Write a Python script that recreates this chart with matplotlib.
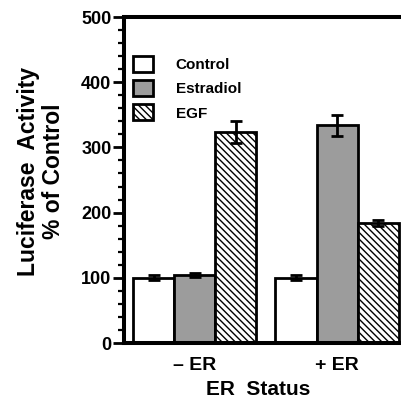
import matplotlib
matplotlib.use("Agg")
import matplotlib.pyplot as plt
import numpy as np

# data
groups = ["\u2013 ER", "+ ER"]
series = ["Control", "Estradiol", "EGF"]
means = {
    "Control": [100, 100],
    "Estradiol": [104, 334],
    "EGF": [324, 184],
}
errors = {
    "Control": [4, 4],
    "Estradiol": [3, 16],
    "EGF": [17, 5],
}
yticks = [0, 100, 200, 300, 400, 500]

plt.rcParams["font.family"] = ["Liberation Sans", "DejaVu Sans"]
plt.rcParams["font.weight"] = "bold"
plt.rcParams["hatch.linewidth"] = 1.0

fig = plt.figure(figsize=(4.02, 4.00), dpi=100)
ax = fig.add_axes([124 / 402, 57 / 400, 283.6 / 402, 326 / 400])

styles = {
    "Control": dict(color="white", hatch=None),
    "Estradiol": dict(color="#9c9c9c", hatch=None),
    "EGF": dict(color="white", hatch="\\\\\\\\\\"),
}

x = np.arange(len(groups))
w = 0.288
handles = []
for i, name in enumerate(series):
    pos = x + (i - 1) * w
    b = ax.bar(pos, means[name], width=w, color=styles[name]["color"],
               hatch=styles[name]["hatch"], edgecolor="black", linewidth=2,
               label=name, zorder=2)
    ax.errorbar(pos, means[name], yerr=errors[name], fmt="none",
                ecolor="black", elinewidth=2, capsize=4.5, capthick=2,
                zorder=3)
    handles.append(b)

ax.set_xlim(-0.495, 1.495)
ax.set_ylim(0, 500)
ax.set_yticks(yticks)
ax.set_yticks(np.arange(0, 501, 20), minor=True)
ax.set_xticks(x)
ax.set_xticklabels(groups)

for s in ax.spines.values():
    s.set_linewidth(2.9)

ax.tick_params(axis="y", which="major", length=8, width=2, pad=1,
               labelsize=13, direction="out")
ax.tick_params(axis="y", which="minor", length=4, width=1.6, direction="out")
ax.tick_params(axis="x", length=0, pad=10, labelsize=14)

ax.legend(handles=handles, loc="upper left",
          bbox_to_anchor=(133 / 402, 1 - 56 / 400),
          bbox_transform=fig.transFigure, frameon=False, fontsize=11,
          handlelength=1.3, handleheight=1.25, handletextpad=1.5,
          labelspacing=0.52, borderpad=0, borderaxespad=0)

fig.text(41 / 402, 1 - 171 / 400, "Luciferase  Activity\n% of Control",
         rotation=90, ha="center", va="center", multialignment="center",
         fontsize=16.5, fontweight="bold", linespacing=1.15)
fig.text(258 / 402, 1 - 395 / 400, "ER  Status", ha="center", va="baseline",
         fontsize=15, fontweight="bold")

fig.savefig("out.png", dpi=100)
